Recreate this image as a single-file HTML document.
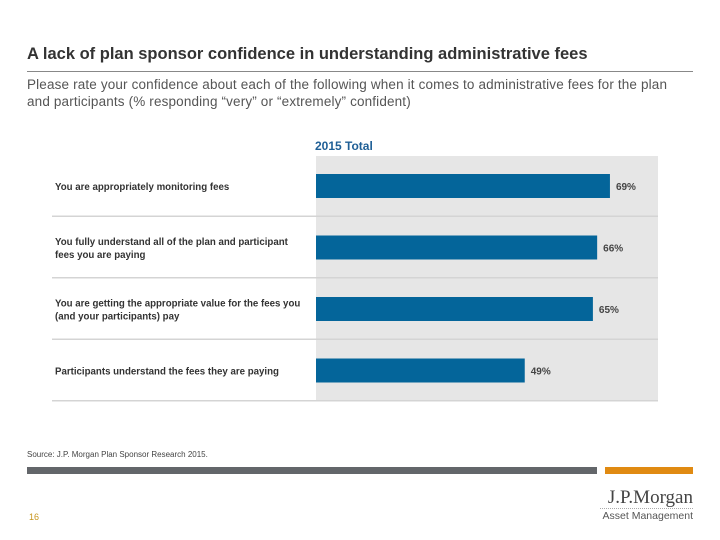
<!DOCTYPE html>
<html><head><meta charset="utf-8"><style>
body{margin:0;width:720px;height:540px;background:#fff;font-family:"Liberation Sans",sans-serif;position:relative;overflow:hidden}
.a{position:absolute}
</style></head><body>
<div class="a" style="left:27px;top:45px;font-size:16.5px;font-weight:bold;color:#333">A lack of plan sponsor confidence in understanding administrative fees</div>
<div class="a" style="left:27px;top:71px;width:666px;height:1px;background:#888"></div>
<div class="a" style="left:27px;top:76px;width:680px;font-size:13.5px;letter-spacing:0.15px;line-height:17px;color:#555;white-space:nowrap">Please rate your confidence about each of the following when it comes to administrative fees for the plan<br>and participants (% responding “very” or “extremely” confident)</div>
<svg class="a" style="left:0;top:0" width="720" height="540">
<g id="g"></g></svg>
<div class="a" style="left:27px;top:450px;font-size:8px;color:#444">Source: J.P. Morgan Plan Sponsor Research 2015.</div>
<div class="a" style="left:27px;top:467px;width:570px;height:7px;background:#63666a"></div>
<div class="a" style="left:605px;top:467px;width:88px;height:7px;background:#e08a12"></div>
<div class="a" style="left:29px;top:512px;font-size:9px;color:#c8961e">16</div>
<div class="a" style="left:600px;top:488px;width:93px;text-align:right;color:#444">
<div style="font-family:'Liberation Serif',serif;font-size:19px;line-height:20px;border-bottom:1px dotted #aaa">J.P.Morgan</div>
<div style="font-size:10.5px;line-height:14px;color:#555">Asset Management</div></div>
<script>
const categories=[["You are appropriately monitoring fees"],["You fully understand all of the plan and participant","fees you are paying"],["You are getting the appropriate value for the fees you","(and your participants) pay"],["Participants understand the fees they are paying"]];
const values=[69,66,65,49];
const valueLabels=["69%","66%","65%","49%"];
const NS="http://www.w3.org/2000/svg",g=document.getElementById('g');
const x0=316,sc=4.26,top0=155,rowH=61.5;
function xs(v){return x0+v*sc}
function yr(i){return top0+i*rowH}
function mk(t,a,txt){const e=document.createElementNS(NS,t);for(const k in a)e.setAttribute(k,a[k]);if(txt!=null)e.textContent=txt;g.appendChild(e);return e}
let e=mk('rect',{x:316,y:156,width:342,height:244,fill:'#e6e6e6'});


e=mk('text',{x:315,y:150,'font-size':12,'font-weight':'bold',fill:'#1f5f96'},'2015 Total');


values.forEach((v,i)=>{
 const yc=yr(i)+31;
 let b=mk('rect',{x:x0,y:yc-12,width:xs(v)-x0,height:24,fill:'#04659a'});
 
 
 let t=mk('text',{x:xs(v)+6,y:yc+4,'font-size':10,'font-weight':'bold',fill:'#444'},valueLabels[i]);
 
 
 const ls=categories[i];
 ls.forEach((s,j)=>{let c=mk('text',{x:55,y:yc+4+(j-(ls.length-1)/2)*13,'font-size':9.7,'font-weight':'bold',fill:'#333'},s);
 
 });
 let l=mk('rect',{x:52,y:yr(i+1)-1,width:606,height:1.5,fill:'#d4d4d4'});
 
 
});
</script>
</body></html>
